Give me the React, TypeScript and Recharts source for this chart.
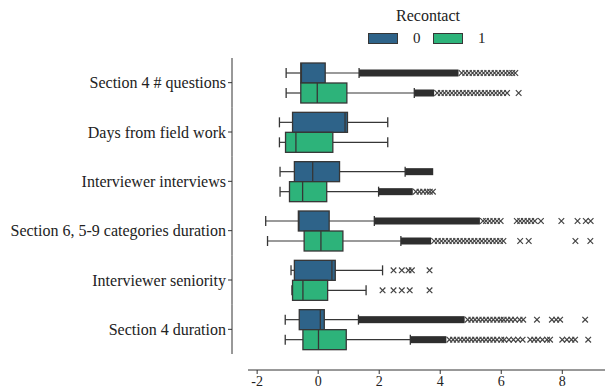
import { ComposedChart, Bar, XAxis, YAxis, Legend } from 'recharts';

const categories = [
  'Section 4 # questions',
  'Days from field work',
  'Interviewer interviews',
  'Section 6, 5-9 categories duration',
  'Interviewer seniority',
  'Section 4 duration',
];

const groupNames = ['0', '1'];
const groupColors = ['#2e6389', '#2db37a'];

// Recontact = 0
const whiskerLow0 = [-1.05, -1.27, -1.25, -1.72, -0.89, -1.08];
const q1_0 = [-0.57, -0.84, -0.78, -0.65, -0.78, -0.62];
const median0 = [-0.55, 0.88, -0.18, -0.63, 0.45, 0.07];
const q3_0 = [0.23, 0.96, 0.7, 0.36, 0.56, 0.2];
const whiskerHigh0 = [1.34, 2.28, 2.85, 1.84, 2.11, 1.32];
const dense0: ([number, number] | null)[] = [[1.34, 4.6], null, [2.85, 3.77], [1.84, 5.3], null, [1.32, 4.8]];
const outliers0 = [
  [4.7, 4.82, 4.94, 5.06, 5.18, 5.3, 5.42, 5.54, 5.66, 5.78, 5.9, 6.02, 6.14, 6.26, 6.36, 6.46],
  [],
  [],
  [5.4, 5.5, 5.62, 5.74, 5.86, 5.98, 6.51, 6.62, 6.74, 6.86, 6.98, 7.1, 7.3, 7.97, 8.5, 8.77, 8.93],
  [2.47, 2.74, 2.96, 3.07, 3.65],
  [4.9, 5.02, 5.14, 5.26, 5.38, 5.5, 5.62, 5.74, 5.86, 5.98, 6.08, 6.2, 6.32, 6.45, 6.6, 6.72, 7.17, 7.66, 7.8, 7.93, 8.75],
];

// Recontact = 1
const whiskerLow1 = [-1.05, -1.27, -1.25, -1.66, -0.86, -1.08];
const q1_1 = [-0.57, -1.07, -0.94, -0.46, -0.84, -0.5];
const median1 = [-0.03, -0.73, -0.51, 0.09, -0.5, 0.01];
const q3_1 = [0.94, 0.48, 0.28, 0.81, 0.31, 0.92];
const whiskerHigh1 = [3.15, 2.28, 1.98, 2.71, 1.57, 3.02];
const dense1: ([number, number] | null)[] = [[3.15, 3.8], null, [1.98, 3.1], [2.71, 3.7], null, [3.02, 4.2]];
const outliers1 = [
  [3.9, 4.02, 4.14, 4.26, 4.38, 4.5, 4.62, 4.74, 4.86, 4.98, 5.1, 5.22, 5.34, 5.46, 5.58, 5.7, 5.82, 5.94, 6.06, 6.19, 6.57],
  [],
  [3.2, 3.32, 3.44, 3.56, 3.66, 3.76],
  [3.8, 3.92, 4.04, 4.16, 4.28, 4.4, 4.52, 4.64, 4.76, 4.88, 5.0, 5.12, 5.24, 5.36, 5.48, 5.6, 5.72, 5.84, 5.96, 6.07, 6.62, 6.9, 8.43, 8.92],
  [2.11, 2.47, 2.74, 3.0, 3.65],
  [4.3, 4.42, 4.54, 4.66, 4.78, 4.9, 5.02, 5.14, 5.26, 5.38, 5.5, 5.62, 5.74, 5.86, 6.0, 6.1, 6.25, 6.4, 6.55, 6.7, 6.95, 7.08, 7.2, 7.35, 7.5, 7.6, 8.0, 8.15, 8.3, 8.42, 8.85],
];

const xTicks = [-2, 0, 2, 4, 6, 8];

const data = categories.map((name, i) => ({
  name,
  g: [
    { lo: whiskerLow0[i], q1: q1_0[i], med: median0[i], q3: q3_0[i], hi: whiskerHigh0[i], dense: dense0[i], out: outliers0[i] },
    { lo: whiskerLow1[i], q1: q1_1[i], med: median1[i], q3: q3_1[i], hi: whiskerHigh1[i], dense: dense1[i], out: outliers1[i] },
  ],
}));

const INK = '#363636';
const FONT = '"Liberation Serif", "DejaVu Serif", serif';

function BoxShape(props: any) {
  const { x, y, width, height, payload, group } = props;
  const s = payload.g[group];
  const k = width / (s.hi - s.lo);
  const px = (v: number) => x + (v - s.lo) * k;
  const cy = y + height / 2;
  const cap = height / 4;
  const m = 2.8;
  return (
    <g>
      <line x1={px(s.lo)} x2={px(s.q1)} y1={cy} y2={cy} stroke={INK} strokeWidth={1.2} />
      <line x1={px(s.q3)} x2={px(s.hi)} y1={cy} y2={cy} stroke={INK} strokeWidth={1.2} />
      <line x1={px(s.lo)} x2={px(s.lo)} y1={cy - cap} y2={cy + cap} stroke={INK} strokeWidth={1.3} />
      <line x1={px(s.hi)} x2={px(s.hi)} y1={cy - cap} y2={cy + cap} stroke={INK} strokeWidth={1.3} />
      {s.dense && (
        <rect x={px(s.dense[0])} y={cy - 3.5} width={px(s.dense[1]) - px(s.dense[0])} height={7} fill="#2e2e2e" />
      )}
      {s.out.map((v: number, j: number) => (
        <path
          key={j}
          d={`M${px(v) - m},${cy - m}L${px(v) + m},${cy + m}M${px(v) - m},${cy + m}L${px(v) + m},${cy - m}`}
          stroke="#444"
          strokeWidth={1.2}
          fill="none"
        />
      ))}
      <rect
        x={px(s.q1)}
        y={y}
        width={px(s.q3) - px(s.q1)}
        height={height}
        fill={groupColors[group]}
        stroke={INK}
        strokeWidth={1.3}
      />
      <line x1={px(s.med)} x2={px(s.med)} y1={y} y2={y + height} stroke={INK} strokeWidth={1.3} />
    </g>
  );
}

function CategoryTick(props: any) {
  const { x, y, payload } = props;
  const half = payload.offset > 0 ? payload.offset : 24.6;
  const ax = x - 16;
  return (
    <g>
      <line x1={ax} x2={ax} y1={y - half} y2={y + half} stroke="#333" strokeWidth={1} />
      <line x1={ax - 4} x2={ax} y1={y} y2={y} stroke="#333" strokeWidth={1} />
      <text
        x={ax - 6}
        y={y}
        textAnchor="end"
        dominantBaseline="central"
        fontSize={16}
        fontFamily={FONT}
        fill="#222"
      >
        {payload.value}
      </text>
    </g>
  );
}

function LegendContent(props: any) {
  const { payload } = props;
  return (
    <div style={{ fontFamily: FONT, color: '#222', width: 120 }}>
      <div style={{ textAlign: 'center', fontSize: 16, lineHeight: '18px', marginBottom: 7 }}>Recontact</div>
      <div style={{ display: 'flex', alignItems: 'center' }}>
        {(payload || []).map((p: any, i: number) => (
          <div key={p.value} style={{ display: 'flex', alignItems: 'center', marginLeft: i === 0 ? 0 : 12 }}>
            <div style={{ width: 28, height: 9, background: p.color, border: `1px solid ${INK}` }} />
            <span style={{ marginLeft: 15, width: 8, fontSize: 15, lineHeight: '12px', color: '#222' }}>{p.value}</span>
          </div>
        ))}
      </div>
    </div>
  );
}

export default function App() {
  return (
    <div style={{ position: 'absolute', left: 0, top: 0, fontFamily: FONT, background: '#fff' }}>
      <ComposedChart
        width={608}
        height={391}
        data={data}
        layout="vertical"
        margin={{ top: 58, right: 3, bottom: 1, left: 0 }}
        barGap={0}
        barSize={20}
      >
        <XAxis
          type="number"
          domain={[-2.3, 9.4]}
          allowDataOverflow
          ticks={xTicks}
          tickSize={4}
          tickMargin={2}
          height={20}
          stroke="#333"
          tick={{ fill: '#222', fontSize: 14, fontFamily: FONT }}
        />
        <YAxis
          type="category"
          dataKey="name"
          width={248}
          axisLine={false}
          tickLine={false}
          tickSize={0}
          tickMargin={0}
          padding={{ top: 0, bottom: 16 }}
          interval={0}
          tick={<CategoryTick />}
        />
        <Legend
          layout="horizontal"
          verticalAlign="middle"
          align="center"
          wrapperStyle={{ top: 7, left: 368, width: 120 }}
          content={<LegendContent />}
        />
        {groupNames.map((g, gi) => (
          <Bar
            key={g}
            name={g}
            dataKey={(d: any) => [d.g[gi].lo, d.g[gi].hi]}
            fill={groupColors[gi]}
            isAnimationActive={false}
            shape={(p: any) => <BoxShape {...p} group={gi} />}
          />
        ))}
      </ComposedChart>
    </div>
  );
}
